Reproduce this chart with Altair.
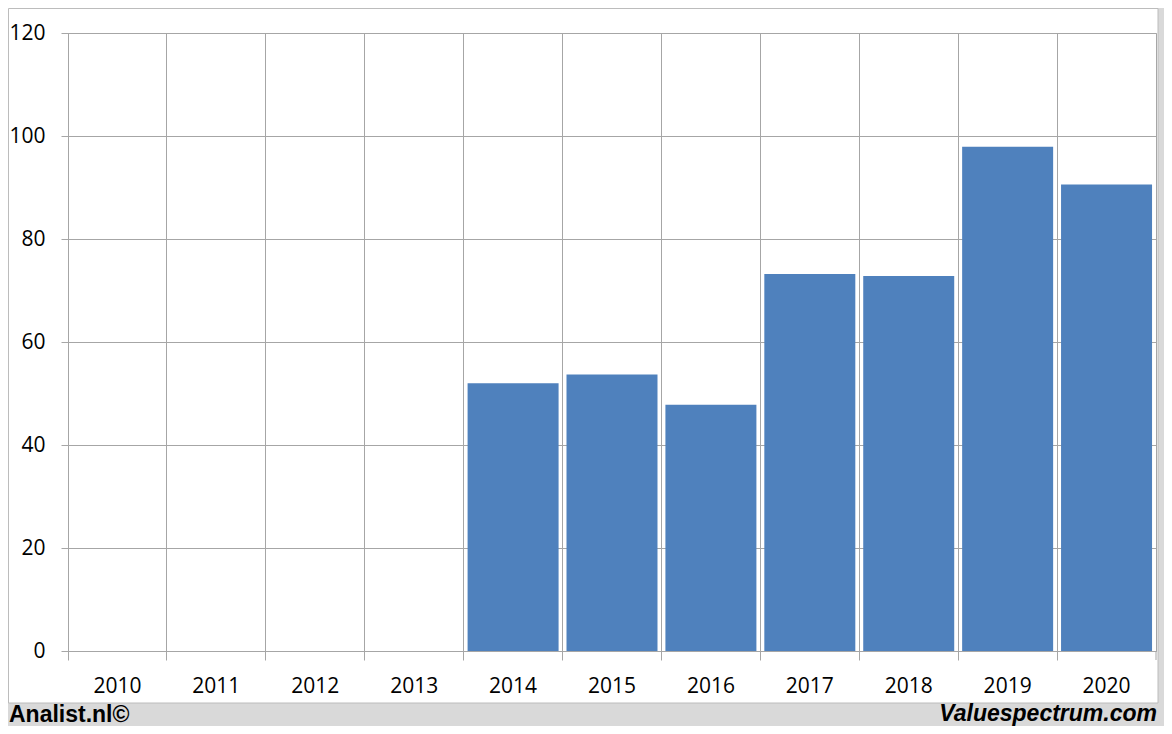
import altair as alt
import pandas as pd

years = ["2010", "2011", "2012", "2013", "2014", "2015", "2016", "2017", "2018", "2019", "2020"]
values = [None, None, None, None, 52.0, 53.7, 47.8, 73.2, 72.8, 97.9, 90.6]
y_ticks = [0, 20, 40, 60, 80, 100, 120]
footer_left = "Analist.nl©"
footer_right = "Valuespectrum.com"

W, H = 1088, 618
PAD = {"left": 60, "top": 25, "right": 8, "bottom": 75}
GRID = "#a6a6a6"
FRAME = "#d9d9d9"
BAR = "#4f81bd"

df = pd.DataFrame({"year": years, "value": values})
one = pd.DataFrame({"a": [0]})

x_enc = alt.X(
    "year:N",
    scale=alt.Scale(domain=years, paddingInner=0, paddingOuter=0),
    axis=alt.Axis(
        title=None, labelAngle=0, bandPosition=0, grid=True, gridColor=GRID,
        tickSize=9, tickColor=GRID, domainColor=GRID,
        labelFont="Open Sans", labelFontSize=21, labelColor="black", labelPadding=15,
    ),
)
y_enc = alt.Y(
    "value:Q",
    scale=alt.Scale(domain=[0, 120]),
    axis=alt.Axis(
        title=None, values=y_ticks, grid=True, gridColor=GRID,
        tickSize=7, tickColor=GRID, domainColor=GRID,
        labelFont="Open Sans", labelFontSize=21, labelColor="black", labelPadding=16,
    ),
)

bars = alt.Chart(df).mark_bar(width=alt.RelativeBandSize(0.92), color=BAR).encode(x=x_enc, y=y_enc)

bottom_edge = H + PAD["bottom"]
right_edge = W + PAD["right"]
bottom_band = alt.Chart(one).mark_rect(color=FRAME).encode(
    x=alt.value(-60), x2=alt.value(right_edge), y=alt.value(670), y2=alt.value(bottom_edge)
)
right_band = alt.Chart(one).mark_rect(color=FRAME).encode(
    x=alt.value(1090), x2=alt.value(right_edge), y=alt.value(-25), y2=alt.value(bottom_edge)
)
border = alt.Chart(one).mark_rect(fill="transparent", stroke="#bcbcbc", strokeWidth=1).encode(
    x=alt.value(-59.5), x2=alt.value(1090), y=alt.value(-24.5), y2=alt.value(670)
)
end_tick = alt.Chart(one).mark_rule(color=GRID).encode(
    x=alt.value(W), y=alt.value(H), y2=alt.value(H + 9)
)
left_text = alt.Chart(one).mark_text(
    align="left", baseline="alphabetic", font="Liberation Sans", fontWeight="bold",
    fontSize=23, color="black",
).encode(x=alt.value(-59), y=alt.value(689), text=alt.value(footer_left))
right_text = alt.Chart(one).mark_text(
    align="right", baseline="alphabetic", font="Liberation Sans", fontWeight="bold",
    fontStyle="italic", fontSize=23, color="black",
).encode(x=alt.value(1089), y=alt.value(688), text=alt.value(footer_right))

chart = alt.layer(
    bars, bottom_band, right_band, border, end_tick, left_text, right_text
).properties(
    width=W, height=H,
    autosize=alt.AutoSizeParams(type="none"),
    padding=PAD,
    background="white",
).configure_view(stroke=GRID)

chart.save("out.html", embed_options={"renderer": "svg", "actions": False})
